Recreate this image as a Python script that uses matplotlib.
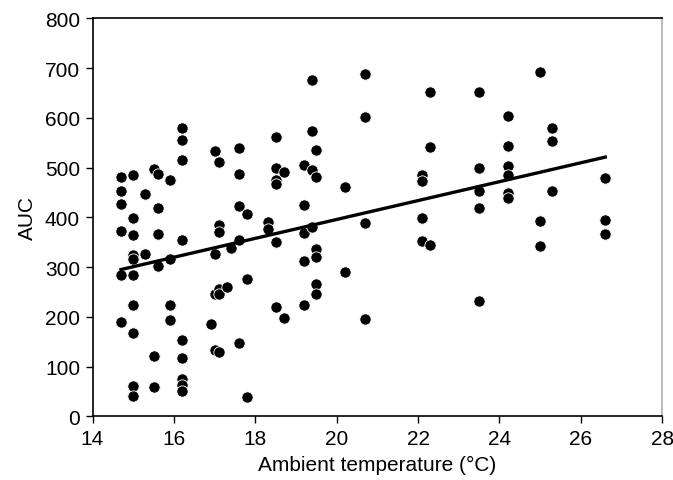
import matplotlib
matplotlib.use("Agg")
import matplotlib.pyplot as plt
import numpy as np

plt.rcParams['font.family'] = ['Liberation Sans', 'DejaVu Sans']

temp = [14.7]*6 + [15.0]*10 + [15.3]*2 + [15.5]*3 + [15.6]*4 + [15.9]*4 + [16.2]*9 \
    + [16.9] + [17.0]*4 + [17.1]*6 + [17.3] + [17.4] + [17.6]*5 + [17.8]*3 \
    + [18.3]*2 + [18.5]*6 + [18.7]*2 + [19.2]*5 + [19.4]*4 + [19.5]*6 \
    + [20.2]*2 + [20.7]*4 + [22.1]*4 + [22.3]*3 + [23.5]*5 + [24.2]*6 \
    + [25.0]*3 + [25.3]*3 + [26.6]*3
auc = [482, 453, 426, 372, 285, 189,
       485, 399, 365, 324, 316, 285, 223, 168, 60, 41,
       446, 327,
       498, 122, 58,
       488, 419, 366, 302,
       475, 317, 223, 194,
       579, 555, 515, 354, 154, 117, 75, 63, 50,
       186,
       534, 327, 245, 134,
       511, 385, 370, 255, 245, 129,
       259,
       339,
       540, 488, 422, 355, 147,
       407, 276, 38,
       390, 376,
       562, 500, 474, 466, 350, 220,
       491, 198,
       506, 424, 369, 313, 224,
       675, 574, 496, 381,
       535, 482, 336, 320, 265, 245,
       460, 291,
       689, 602, 389, 195,
       485, 473, 399, 353,
       651, 541, 345,
       651, 499, 453, 418, 232,
       604, 544, 504, 486, 449, 439,
       692, 393, 342,
       580, 553, 453,
       480, 394, 366]

fit_x = [14.7, 26.6]
fit_y = [295, 521]

xticks = [14, 16, 18, 20, 22, 24, 26, 28]
yticks = [0, 100, 200, 300, 400, 500, 600, 700, 800]

fig = plt.figure(figsize=(6.73, 4.81), dpi=100)
ax = fig.add_axes([92.5/673, 1 - 417.3/481, (662.3 - 92.5)/673, (417.3 - 19.3)/481])

ax.scatter(temp, auc, s=66, c='black', edgecolors='white', linewidths=0.6, zorder=3)
ax.plot(fit_x, fit_y, color='black', lw=2.4, zorder=4)

ax.set_xlim(14, 28)
ax.set_ylim(0, 800)
ax.set_xticks(xticks)
ax.set_yticks(yticks)
ax.tick_params(direction='out', length=5, width=1, labelsize=15, pad=4)
ax.set_xlabel('Ambient temperature (°C)', fontsize=15, labelpad=5)
ax.set_ylabel('AUC', fontsize=15, labelpad=6)

for s in ['left', 'bottom', 'top']:
    ax.spines[s].set_color('black')
    ax.spines[s].set_linewidth(1.2)
ax.spines['right'].set_color('#b0b0b0')
ax.spines['right'].set_linewidth(1.2)

fig.savefig('out.png', dpi=100)
